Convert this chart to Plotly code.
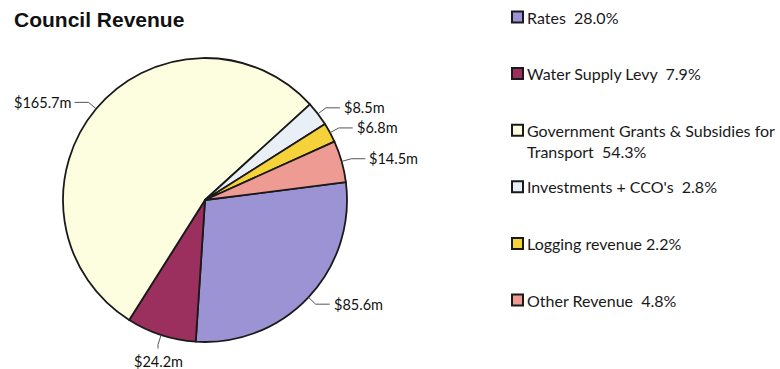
import math
import plotly.graph_objects as go

# ---- data ----
categories = ["Rates", "Water Supply Levy", "Government Grants & Subsidies for Transport",
              "Investments + CCO's", "Logging revenue", "Other Revenue"]
values = [85.6, 24.2, 165.7, 8.5, 6.8, 14.5]          # $m
value_labels = ["$85.6m", "$24.2m", "$165.7m", "$8.5m", "$6.8m", "$14.5m"]
legend_names = ["Rates", "Water Supply Levy", "Government Grants & Subsidies for<br>Transport",
                "Investments + CCO's", "Logging revenue", "Other Revenue"]
legend_pcts = ["28.0%", "7.9%", "54.3%", "2.8%", "2.2%", "4.8%"]
legend_seps = ["\u00a0\u00a0", "\u00a0\u00a0", "\u00a0\u00a0", "\u00a0\u00a0", " ", "\u00a0\u00a0"]
colors = ["#9b93d3", "#9b2f5e", "#fdfde0", "#e8eff7", "#f5d23a", "#ee9b93"]

# ---- layout geometry ----
W, H = 780, 369
cx, cy, R = 205, 200, 142
START = 82.8            # compass angle (deg) where first slice starts, clockwise
EDGE = "#1a1a1a"
LABEL_FONT = dict(family="Lato, Open Sans, sans-serif", size=14.5, color="#111111")


def px(x):
    return x / W


def py(y):
    return 1 - y / H


fig = go.Figure(go.Pie(
    labels=categories, values=values, sort=False, direction="clockwise",
    rotation=START, textinfo="none", showlegend=False,
    marker=dict(colors=colors, line=dict(color=EDGE, width=1.8)),
    domain=dict(x=[px(cx - R), px(cx + R)], y=[py(cy + R), py(cy - R)]),
    hovertemplate="%{label}<br>%{customdata}<extra></extra>", customdata=value_labels,
))

shapes = []
annotations = []

# data labels with leader lines
total = sum(values)
acc = 0.0
for v, lab in zip(values, value_labels):
    mid = START + 360.0 * (acc + v / 2) / total
    acc += v
    a = math.radians(mid)
    ux, uy = math.sin(a), -math.cos(a)
    rim = (cx + R * ux, cy + R * uy)
    elb = (cx + (R + 10) * ux, cy + (R + 10) * uy)
    if abs(uy) > 0.9:
        end = (elb[0], elb[1] + 4 * (1 if uy > 0 else -1))
        path = f"M{px(rim[0])},{py(rim[1])} L{px(elb[0])},{py(elb[1])} L{px(end[0])},{py(end[1])}"
        annotations.append(dict(x=px(end[0]), y=py(end[1] + 2), xref="paper", yref="paper",
                                text=lab, showarrow=False, xanchor="center",
                                yanchor="top" if uy > 0 else "bottom", font=LABEL_FONT))
    else:
        s = 1 if ux > 0 else -1
        end = (elb[0] + 14 * s, elb[1])
        path = f"M{px(rim[0])},{py(rim[1])} L{px(elb[0])},{py(elb[1])} L{px(end[0])},{py(end[1])}"
        annotations.append(dict(x=px(end[0] + 2 * s), y=py(end[1]), xref="paper", yref="paper",
                                text=lab, showarrow=False, xanchor="left" if s > 0 else "right",
                                yanchor="middle", font=LABEL_FONT))
    shapes.append(dict(type="path", path=path, xref="paper", yref="paper",
                       line=dict(color="#555555", width=1)))

# manual legend
LEG_X, LEG_Y0, LEG_DY, LINE_DY, SQ = 512, 17, 56.6, 21, 11
for i, (name, pct, sep, col) in enumerate(zip(legend_names, legend_pcts, legend_seps, colors)):
    yc = LEG_Y0 + LEG_DY * i
    shapes.append(dict(type="rect", xref="paper", yref="paper",
                       x0=px(LEG_X), x1=px(LEG_X + SQ), y0=py(yc - SQ / 2), y1=py(yc + SQ / 2),
                       fillcolor=col, line=dict(color="#1a1a1a", width=2)))
    lines = (name + sep + pct).split("<br>")
    for k, ln in enumerate(lines):
        annotations.append(dict(x=px(LEG_X + SQ + 2), y=py(yc + LINE_DY * k), xref="paper", yref="paper",
                                text=ln, showarrow=False, xanchor="left", yanchor="middle",
                                font=dict(family="Lato, Open Sans, sans-serif", size=16, color="#1a1a1a")))

# title
annotations.append(dict(x=px(12), y=py(20), xref="paper", yref="paper", text="<b>Council Revenue</b>",
                        showarrow=False, xanchor="left", yanchor="middle",
                        font=dict(family="Liberation Sans, Arial, sans-serif", size=21, color="#111111")))

fig.update_layout(width=W, height=H, margin=dict(l=0, r=0, t=0, b=0),
                  paper_bgcolor="white", plot_bgcolor="white",
                  shapes=shapes, annotations=annotations)

fig.write_html("out.html")
